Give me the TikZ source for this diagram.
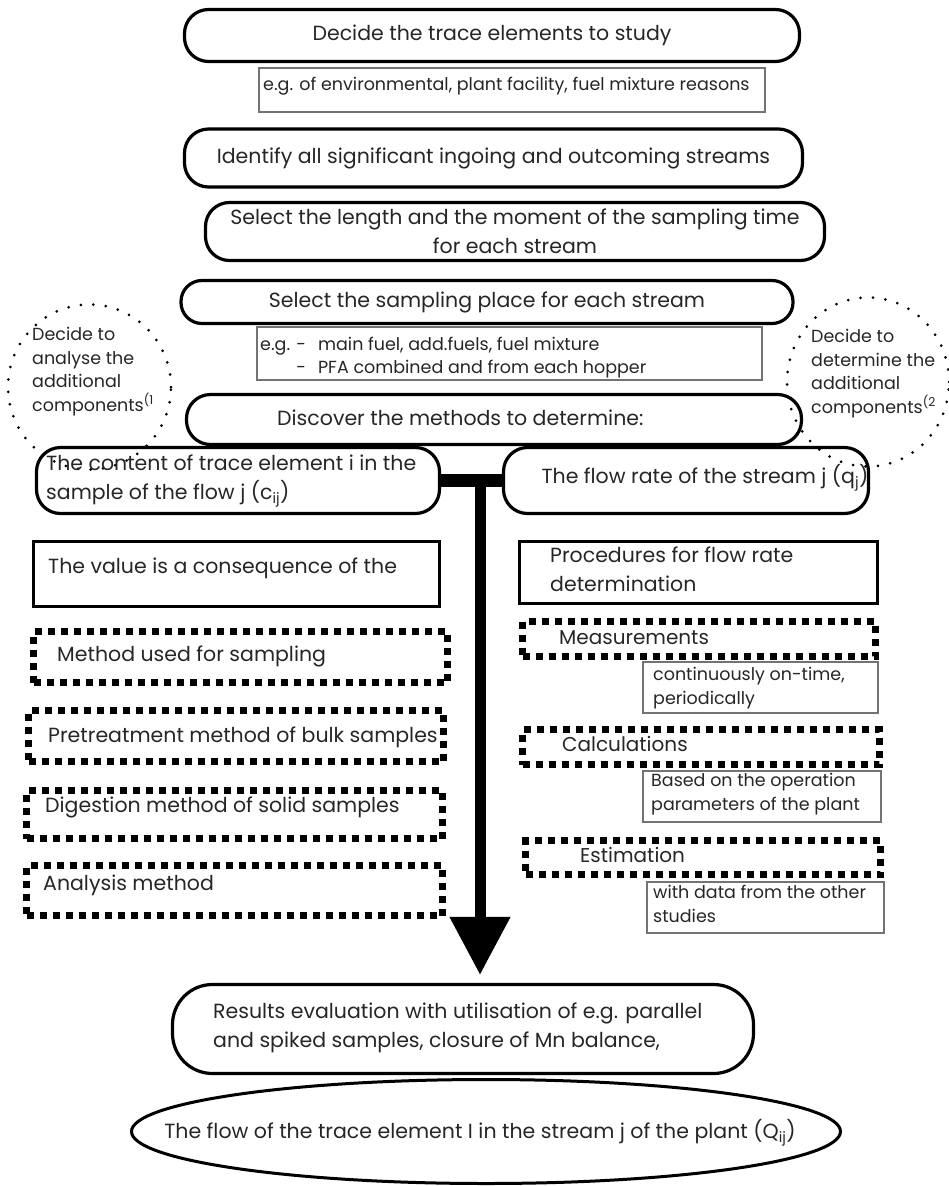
\documentclass[tikz,border=0pt]{standalone}
\usepackage{fontspec}
\setmainfont{Poppins}
\usetikzlibrary{arrows.meta,shapes.geometric}
\begin{document}
\begin{tikzpicture}[x=1pt,y=-1pt,
  rbox/.style={draw, line width=3.2pt, rounded corners=24pt, inner sep=0pt},
  thinbox/.style={draw=black!55, line width=1.2pt, inner sep=0pt},
  thickbox/.style={draw, line width=3pt, inner sep=0pt},
  dotbox/.style={draw, line width=7pt, dash pattern=on 7pt off 6pt, inner sep=0pt},
  dotcirc/.style={ellipse, draw, line width=3pt, line cap=round, dash pattern=on 0pt off 12.5pt, inner sep=0pt},
  big/.style={font=\fontsize{20.5}{29}\selectfont, text=black!85, inner sep=0pt},
  bigger/.style={font=\fontsize{20}{28}\selectfont, text=black!85, inner sep=0pt},
  small/.style={font=\fontsize{17.5}{23}\selectfont, text=black!85, inner sep=0pt},
  mid/.style={font=\fontsize{17.5}{23.5}\selectfont, text=black!85, inner sep=0pt},
]
\useasboundingbox (0,0) rectangle (949,1186);

% top chain
\node[rbox, minimum width=615pt, minimum height=52pt, big] (decide) at (492,35.5) {Decide the trace elements to study};
\node[thinbox, minimum width=506pt, minimum height=44pt] (eg1) at (512,90) {};
\node[small, anchor=west] (eg1t) at (263,86) {e.g. of environmental, plant facility, fuel mixture reasons};
\node[rbox, minimum width=618pt, minimum height=58pt, big] (ident) at (493.5,158) {Identify all significant ingoing and outcoming streams};
\node[rbox, minimum width=619pt, minimum height=58pt, big, align=center] (length) at (515,231.5) {Select the length and the moment of the sampling time\\for each stream};
\node[rbox, rounded corners=21pt, minimum width=612pt, minimum height=43pt, big] (place) at (487,302) {Select the sampling place for each stream};
\node[thinbox, minimum width=505pt, minimum height=53pt] (eg2) at (509.5,353.5) {};
\node[small, anchor=west] (eg2t) at (260,357) {\begin{tabular}{@{}r@{\hspace{12pt}}l@{}}e.g. -&main fuel, add.fuels, fuel mixture\\-&PFA combined and from each hopper\end{tabular}};
\node[rbox, minimum width=615pt, minimum height=50pt] (disc) at (494,419.5) {};
\node[big, anchor=west] (disct) at (277,418) {Discover the methods to determine:};

% dotted circles
\node[dotcirc, minimum width=163pt, minimum height=165pt] (lcirc) at (89.5,387) {};
\node[mid, anchor=north west, align=left] (lcirct) at (32,327) {Decide to\\analyse the\\additional\\components\textsuperscript{(1}};
\node[dotcirc, minimum width=162pt, minimum height=169pt] (rcirc) at (868,382) {};
\node[mid, anchor=north west, align=left] (rcirct) at (811,329) {Decide to\\determine the\\additional\\components\textsuperscript{(2}};

% two branches
\node[rbox, minimum width=403pt, minimum height=66pt] (content) at (238,480.5) {};
\node[big, anchor=west, align=left] (contentt) at (46,481) {The content of trace element i in the\\sample of the flow j (c\textsubscript{ij})};
\node[rbox, minimum width=365pt, minimum height=66pt] (flow) at (686,480.5) {};
\node[big] (flowt) at (705,478) {The flow rate of the stream j (q\textsubscript{j})};

% left column
\node[thickbox, minimum width=406pt, minimum height=65pt] (value) at (236.5,574) {};
\node[big, anchor=west] (valuet) at (48,568) {The value is a consequence of the};
\node[dotbox, minimum width=414pt, minimum height=51pt] (meth) at (240.5,657) {};
\node[big, anchor=west] (metht) at (57,656) {Method used for sampling};
\node[dotbox, minimum width=415pt, minimum height=51pt] (pret) at (236,736) {};
\node[big, anchor=west] (prett) at (48,737) {Pretreatment method of bulk samples};
\node[dotbox, minimum width=416pt, minimum height=48pt] (dig) at (234.5,814.5) {};
\node[big, anchor=west] (digt) at (45,807) {Digestion method of solid samples};
\node[dotbox, minimum width=416pt, minimum height=50pt] (ana) at (234.5,890.5) {};
\node[big, anchor=west] (anat) at (43,885) {Analysis method};

% right column
\node[thickbox, minimum width=358pt, minimum height=62pt] (proc) at (698.5,572.5) {};
\node[big, anchor=west, align=left] (proct) at (550,569) {Procedures for flow rate\\determination};
\node[dotbox, minimum width=353pt, minimum height=35pt] (meas) at (699,639) {};
\node[bigger, anchor=west] (meast) at (559,638) {Measurements};
\node[thinbox, minimum width=235pt, minimum height=51pt] (cont) at (760.5,687.5) {};
\node[mid, anchor=west, align=left] (contt) at (653,688) {continuously on-time,\\periodically};
\node[dotbox, minimum width=357pt, minimum height=35pt] (calc) at (701,747) {};
\node[bigger, anchor=west] (calct) at (562,744) {Calculations};
\node[thinbox, minimum width=238pt, minimum height=51pt] (based) at (762,796.5) {};
\node[mid, anchor=west, align=left] (basedt) at (651,794) {Based on the operation\\parameters of the plant};
\node[dotbox, minimum width=355pt, minimum height=34pt] (est) at (703,857.5) {};
\node[bigger, anchor=west] (estt) at (580,855) {Estimation};
\node[thinbox, minimum width=237pt, minimum height=51pt] (wdata) at (765.5,907.5) {};
\node[mid, anchor=west, align=left] (wdatat) at (653,904) {with data from the other\\studies};

% results
\node[rbox, rounded corners=40pt, minimum width=581pt, minimum height=89pt] (res) at (463,1029) {};
\node[big, anchor=west, align=left] (rest) at (213,1028) {Results evaluation with utilisation of e.g. parallel\\and spiked samples, closure of Mn balance,};
\node[ellipse, draw, line width=3pt, minimum width=709pt, minimum height=104pt, inner sep=0pt] (final) at (486,1131.5) {};
\node[big] (finalt) at (480,1133) {The flow of the trace element I in the stream j of the plant (Q\textsubscript{ij})};

% connectors
\draw[line width=13pt] (content.east) -- (flow.west);
\coordinate (junc) at (480,474);
\draw[line width=11pt, -{Triangle[width=58pt,length=58pt]}, shorten >=8pt] (junc) -- (junc |- res.north);
\end{tikzpicture}
\end{document}
